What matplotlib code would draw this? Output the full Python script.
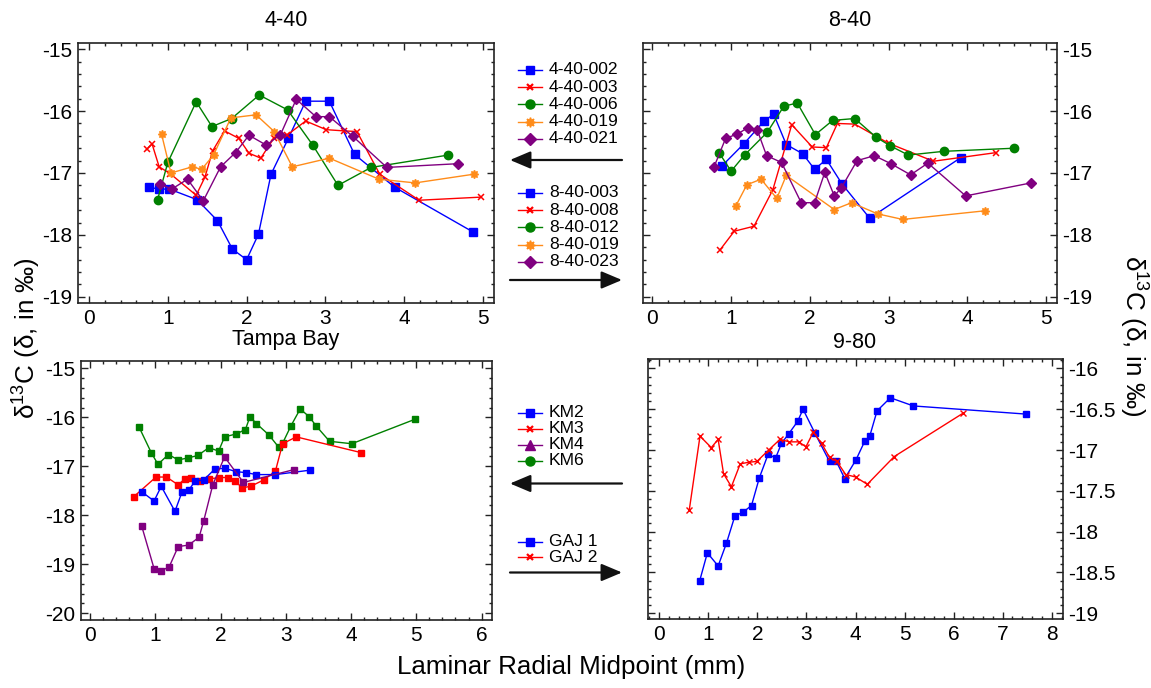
import matplotlib
matplotlib.use('Agg')
import matplotlib.pyplot as plt
from matplotlib.ticker import MultipleLocator, FormatStrFormatter
from matplotlib.lines import Line2D
from matplotlib.patches import FancyArrowPatch

plt.rcParams['font.family'] = ['Liberation Sans', 'DejaVu Sans']
plt.rcParams['mathtext.fontset'] = 'custom'
plt.rcParams['mathtext.rm'] = 'Liberation Sans'
plt.rcParams['axes.unicode_minus'] = False

BLUE, RED, GREEN, ORANGE, PURPLE = '#0000FF', '#FF0000', '#008000', '#FF8C1A', '#800080'

# ---------------- Panel 1: 4-40 ----------------
x_440_002 = [0.76, 0.89, 1.02, 1.37, 1.63, 1.82, 2.00, 2.15, 2.31, 2.53, 2.75, 3.05, 3.37, 3.88, 4.87]
y_440_002 = [-17.23, -17.26, -17.26, -17.43, -17.77, -18.23, -18.40, -17.99, -17.02, -16.44, -15.84, -15.84, -16.70, -17.23, -17.95]
x_440_003 = [0.73, 0.80, 0.89, 1.03, 1.36, 1.47, 1.57, 1.72, 1.90, 2.03, 2.18, 2.35, 2.51, 2.75, 3.01, 3.24, 3.40, 3.69, 4.19, 4.97]
y_440_003 = [-16.62, -16.53, -16.90, -17.01, -17.36, -17.07, -16.64, -16.32, -16.44, -16.68, -16.76, -16.43, -16.39, -16.16, -16.30, -16.32, -16.33, -17.02, -17.44, -17.39]
x_440_006 = [0.87, 1.00, 1.36, 1.56, 1.81, 2.16, 2.52, 2.84, 3.16, 3.58, 4.56]
y_440_006 = [-17.43, -16.83, -15.85, -16.25, -16.12, -15.74, -15.98, -16.55, -17.20, -16.91, -16.71]
x_440_019 = [0.92, 1.04, 1.31, 1.43, 1.58, 1.80, 2.12, 2.35, 2.58, 3.05, 3.68, 4.14, 4.88]
y_440_019 = [-16.37, -17.00, -16.90, -16.94, -16.71, -16.11, -16.06, -16.33, -16.90, -16.76, -17.10, -17.16, -17.02]
x_440_021 = [0.90, 1.05, 1.25, 1.45, 1.67, 1.86, 2.03, 2.25, 2.43, 2.63, 2.88, 3.05, 3.35, 3.78, 4.68]
y_440_021 = [-17.18, -17.26, -17.10, -17.45, -16.90, -16.67, -16.39, -16.55, -16.38, -15.81, -16.09, -16.09, -16.41, -16.91, -16.85]

# ---------------- Panel 2: 8-40 ----------------
x_840_003 = [0.88, 1.16, 1.42, 1.54, 1.70, 1.91, 2.06, 2.21, 2.41, 2.76, 3.92]
y_840_003 = [-16.89, -16.53, -16.16, -16.05, -16.54, -16.69, -16.94, -16.78, -17.18, -17.73, -16.75]
x_840_008 = [0.86, 1.04, 1.29, 1.53, 1.77, 2.03, 2.21, 2.35, 2.57, 3.00, 3.57, 4.37]
y_840_008 = [-18.24, -17.94, -17.86, -17.27, -16.22, -16.58, -16.59, -16.20, -16.21, -16.52, -16.81, -16.67]
x_840_012 = [0.85, 1.00, 1.17, 1.46, 1.67, 1.84, 2.07, 2.29, 2.57, 2.84, 3.02, 3.25, 3.70, 4.59]
y_840_012 = [-16.68, -16.97, -16.71, -16.34, -15.92, -15.87, -16.38, -16.15, -16.12, -16.42, -16.56, -16.71, -16.65, -16.60]
x_840_019 = [1.06, 1.20, 1.38, 1.58, 1.70, 2.31, 2.53, 2.86, 3.18, 4.23]
y_840_019 = [-17.53, -17.19, -17.10, -17.41, -17.04, -17.59, -17.48, -17.66, -17.75, -17.61]
x_840_023 = [0.78, 0.93, 1.08, 1.21, 1.33, 1.45, 1.64, 1.89, 2.06, 2.19, 2.31, 2.40, 2.60, 2.82, 3.03, 3.28, 3.50, 3.98, 4.81]
y_840_023 = [-16.91, -16.44, -16.37, -16.27, -16.30, -16.72, -16.83, -17.48, -17.48, -16.99, -17.37, -17.24, -16.80, -16.72, -16.85, -17.03, -16.84, -17.37, -17.16]

# ---------------- Panel 3: Tampa Bay ----------------
x_km2 = [0.79, 0.98, 1.09, 1.30, 1.41, 1.51, 1.61, 1.74, 1.91, 2.06, 2.24, 2.39, 2.55, 2.84, 3.37]
y_km2 = [-17.52, -17.71, -17.41, -17.92, -17.52, -17.49, -17.30, -17.28, -17.06, -17.04, -17.11, -17.13, -17.17, -17.17, -17.08]
x_km3 = [0.67, 1.01, 1.17, 1.35, 1.45, 1.54, 1.69, 1.82, 1.98, 2.12, 2.22, 2.33, 2.46, 2.66, 2.84, 2.95, 3.16, 4.15]
y_km3 = [-17.62, -17.22, -17.22, -17.38, -17.26, -17.23, -17.30, -17.26, -17.23, -17.23, -17.30, -17.44, -17.41, -17.28, -17.10, -16.54, -16.40, -16.72]
x_km4 = [0.79, 0.98, 1.09, 1.21, 1.35, 1.51, 1.67, 1.74, 1.88, 2.06, 2.35, 3.12]
y_km4 = [-18.22, -19.09, -19.13, -19.06, -18.64, -18.61, -18.45, -18.12, -17.38, -16.81, -17.33, -17.07]
x_km6 = [0.75, 0.94, 1.04, 1.20, 1.35, 1.50, 1.65, 1.82, 1.97, 2.06, 2.24, 2.38, 2.45, 2.55, 2.74, 2.89, 2.95, 3.08, 3.22, 3.36, 3.46, 3.67, 4.01, 4.98]
y_km6 = [-16.20, -16.73, -16.96, -16.76, -16.87, -16.83, -16.78, -16.62, -16.69, -16.40, -16.34, -16.25, -15.99, -16.13, -16.36, -16.61, -16.53, -16.17, -15.83, -15.99, -16.17, -16.49, -16.54, -16.04]

# ---------------- Panel 4: 9-80 ----------------
x_gaj1 = [0.82, 0.98, 1.20, 1.37, 1.54, 1.71, 1.88, 2.04, 2.22, 2.37, 2.49, 2.64, 2.82, 2.93, 3.17, 3.47, 3.61, 3.78, 4.01, 4.19, 4.29, 4.44, 4.71, 5.18, 7.48]
y_gaj1 = [-18.61, -18.26, -18.42, -18.14, -17.81, -17.76, -17.68, -17.34, -17.05, -17.10, -16.92, -16.80, -16.65, -16.50, -16.79, -17.14, -17.14, -17.35, -17.12, -16.89, -16.83, -16.52, -16.36, -16.46, -16.56]
x_gaj2 = [0.61, 0.83, 1.06, 1.20, 1.31, 1.47, 1.65, 1.82, 1.99, 2.23, 2.46, 2.65, 2.84, 2.99, 3.14, 3.31, 3.47, 3.62, 3.80, 4.00, 4.24, 4.79, 6.19]
y_gaj2 = [-17.74, -16.83, -16.97, -16.87, -17.29, -17.45, -17.17, -17.15, -17.14, -17.00, -16.87, -16.90, -16.90, -16.96, -16.78, -16.92, -17.09, -17.14, -17.30, -17.33, -17.42, -17.08, -16.55]

panel_titles = ['4-40', '8-40', 'Tampa Bay', '9-80']
labels_440 = ['4-40-002', '4-40-003', '4-40-006', '4-40-019', '4-40-021']
labels_840 = ['8-40-003', '8-40-008', '8-40-012', '8-40-019', '8-40-023']
labels_km = ['KM2', 'KM3', 'KM4', 'KM6']
labels_gaj = ['GAJ 1', 'GAJ 2']

W, H = 1151, 688
fig = plt.figure(figsize=(W / 100, H / 100), dpi=100)

TICK_FS = 15
TITLE_FS = 15.5
LEG_FS = 12.6
LAB_FS = 18.7


def fx(px):
    return px / W


def fy(py):
    return 1 - py / H


def make_ax(l, t, r, b):
    return fig.add_axes([fx(l), fy(b), fx(r) - fx(l), fy(t) - fy(b)])


def style(ax, xlim, ylim, xmaj, xmin, ymaj, ymin, right=False, yfmt='%g'):
    ax.set_xlim(*xlim)
    ax.set_ylim(*ylim)
    ax.xaxis.set_major_locator(MultipleLocator(xmaj))
    ax.xaxis.set_minor_locator(MultipleLocator(xmin))
    ax.yaxis.set_major_locator(MultipleLocator(ymaj))
    ax.yaxis.set_minor_locator(MultipleLocator(ymin))
    ax.yaxis.set_major_formatter(FormatStrFormatter(yfmt))
    ax.tick_params(which='both', direction='in', top=True, right=True, bottom=True, left=True,
                   labelleft=not right, labelright=right, labelsize=TICK_FS, pad=4, width=1.0,
                   color='#222222')
    ax.tick_params(which='major', length=5)
    ax.tick_params(which='minor', length=2.5)
    for s in ax.spines.values():
        s.set_linewidth(1.2)
        s.set_color('#222222')


lw = 1.0
# Panel 1
ax1 = make_ax(78, 43, 494, 303)
ax1.plot(x_440_002, y_440_002, color=BLUE, lw=lw, marker='s', ms=5.5)
ax1.plot(x_440_003, y_440_003, color=RED, lw=lw, marker='x', ms=5, mew=1.1)
ax1.plot(x_440_006, y_440_006, color=GREEN, lw=lw, marker='o', ms=6)
ax1.plot(x_440_019, y_440_019, color=ORANGE, lw=lw, marker=(8, 1, 0), ms=6)
ax1.plot(x_440_021, y_440_021, color=PURPLE, lw=lw, marker='D', ms=5.5)
style(ax1, (-0.14, 5.14), (-19.1, -14.9), 1, 0.2, 1, 0.2)

# Panel 2
ax2 = make_ax(643, 43, 1057, 303)
ax2.plot(x_840_003, y_840_003, color=BLUE, lw=lw, marker='s', ms=5.5)
ax2.plot(x_840_008, y_840_008, color=RED, lw=lw, marker='x', ms=5, mew=1.1)
ax2.plot(x_840_012, y_840_012, color=GREEN, lw=lw, marker='o', ms=6)
ax2.plot(x_840_019, y_840_019, color=ORANGE, lw=lw, marker=(8, 1, 0), ms=6)
ax2.plot(x_840_023, y_840_023, color=PURPLE, lw=lw, marker='D', ms=5.5)
style(ax2, (-0.12, 5.14), (-19.1, -14.9), 1, 0.2, 1, 0.2, right=True)

# Panel 3
ax3 = make_ax(81, 361, 492, 620)
ax3.plot(x_km6, y_km6, color=GREEN, lw=lw, marker='s', ms=4)
ax3.plot(x_km3, y_km3, color=RED, lw=lw, marker='s', ms=4)
ax3.plot(x_km2, y_km2, color=BLUE, lw=lw, marker='s', ms=4)
ax3.plot(x_km4, y_km4, color=PURPLE, lw=lw, marker='s', ms=4)
style(ax3, (-0.14, 6.16), (-20.14, -14.85), 1, 0.2, 1, 0.2)

# Panel 4
ax4 = make_ax(648, 359, 1063, 619)
ax4.plot(x_gaj1, y_gaj1, color=BLUE, lw=lw, marker='s', ms=4.5)
ax4.plot(x_gaj2, y_gaj2, color=RED, lw=lw, marker='x', ms=4, mew=1.0)
style(ax4, (-0.23, 8.23), (-19.07, -15.885), 1, 0.2, 0.5, 0.1, right=True)

# Titles
title_pos = [(286, 21), (850, 21), (286, 340), (855, 343)]
for t, (px, py) in zip(panel_titles, title_pos):
    fig.text(fx(px), fy(py), t, ha='center', va='center', fontsize=TITLE_FS)

# Axis labels
ylab = 'δ$^{\\mathrm{13}}$C (δ, in ‰)'
fig.text(fx(26), fy(338), ylab, rotation=90, ha='center', va='center', fontsize=LAB_FS)
fig.text(fx(1134), fy(336), ylab, rotation=-90, ha='center', va='center', fontsize=LAB_FS)
fig.text(fx(571), fy(667), 'Laminar Radial Midpoint (mm)', ha='center', va='center', fontsize=LAB_FS)


# Legends (manual, in figure pixels)
def legend_entry(py, color, marker, label, ms=6, mew=1.0):
    fig.add_artist(Line2D([fx(518), fx(542)], [fy(py), fy(py)], transform=fig.transFigure,
                          color=color, lw=1.0))
    fig.add_artist(Line2D([fx(530)], [fy(py)], transform=fig.transFigure, color=color,
                          marker=marker, ms=ms, mew=mew, lw=0))
    fig.text(fx(549), fy(py), label, ha='left', va='center', fontsize=LEG_FS)


markers5 = ['s', 'x', 'o', (8, 1, 0), 'D']
colors5 = [BLUE, RED, GREEN, ORANGE, PURPLE]
ms5 = [5.5, 5, 6.5, 7, 6]
for i, lab in enumerate(labels_440):
    legend_entry(70 + i * 17.2, colors5[i], markers5[i], lab, ms=ms5[i], mew=1.6 if markers5[i] == 'x' else 1.0)
for i, lab in enumerate(labels_840):
    legend_entry(193 + i * 17.2, colors5[i], markers5[i], lab, ms=ms5[i], mew=1.6 if markers5[i] == 'x' else 1.0)

km_markers = ['s', 'x', '^', 'o']
km_colors = [BLUE, RED, PURPLE, GREEN]
km_ms = [5.5, 5, 6.5, 6.5]
for i, lab in enumerate(labels_km):
    legend_entry(412.5 + i * 16, km_colors[i], km_markers[i], lab, ms=km_ms[i], mew=1.6 if km_markers[i] == 'x' else 1.0)
gaj_markers = ['s', 'x']
gaj_colors = [BLUE, RED]
for i, lab in enumerate(labels_gaj):
    legend_entry(541.5 + i * 15.5, gaj_colors[i], gaj_markers[i], lab, ms=5.5 if i == 0 else 5, mew=1.0 if i == 0 else 1.6)


def arrow(x0, x1, py):
    fig.add_artist(FancyArrowPatch((fx(x0), fy(py)), (fx(x1), fy(py)), transform=fig.transFigure,
                                   arrowstyle='-|>,head_length=0.9,head_width=0.38', mutation_scale=14,
                                   color='#111111', lw=1.6, shrinkA=0, shrinkB=0))


arrow(622, 510, 160)
arrow(510, 622, 280)
arrow(622, 510, 483.5)
arrow(510, 622, 572.5)

fig.savefig('out.png', dpi=100)
